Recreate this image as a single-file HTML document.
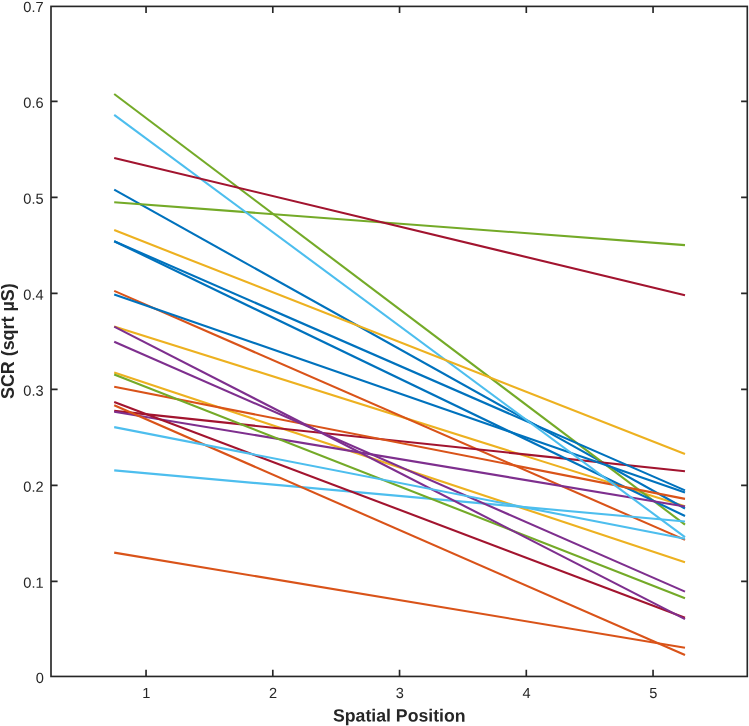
<!DOCTYPE html>
<html><head><meta charset="utf-8"><title>SCR vs Spatial Position</title>
<style>
html,body{margin:0;padding:0;background:#fff;}
svg{display:block;}
text{font-family:"Liberation Sans",Arial,Helvetica,sans-serif;fill:#262626;}
.t{font-size:14.6px;}
.l{font-size:17.7px;font-weight:bold;fill:#262626;}
</style></head><body>
<svg width="749" height="726" viewBox="0 0 749 726">
<rect width="749" height="726" fill="#fff"/>
<g fill="none" stroke-width="2.1" stroke-linecap="butt">
<line x1="114.2" y1="372.6" x2="685.0" y2="562.3" stroke="#EDB120"/>
<line x1="114.2" y1="326.4" x2="685.0" y2="506.3" stroke="#EDB120"/>
<line x1="114.2" y1="290.9" x2="685.0" y2="539.9" stroke="#D95319"/>
<line x1="114.2" y1="189.7" x2="685.0" y2="508.5" stroke="#0072BD"/>
<line x1="114.2" y1="94.0" x2="685.0" y2="524.6" stroke="#74AA28"/>
<line x1="114.2" y1="470.4" x2="685.0" y2="521.5" stroke="#4DBEEE"/>
<line x1="114.2" y1="410.9" x2="685.0" y2="471.3" stroke="#A2142F"/>
<line x1="114.2" y1="294.4" x2="685.0" y2="492.6" stroke="#0072BD"/>
<line x1="114.2" y1="241.2" x2="685.0" y2="516.0" stroke="#0072BD"/>
<line x1="114.2" y1="241.2" x2="685.0" y2="490.4" stroke="#0072BD"/>
<line x1="114.2" y1="386.8" x2="685.0" y2="498.9" stroke="#D95319"/>
<line x1="114.2" y1="411.7" x2="685.0" y2="506.5" stroke="#7E2F8E"/>
<line x1="114.2" y1="374.6" x2="685.0" y2="598.2" stroke="#74AA28"/>
<line x1="114.2" y1="202.2" x2="685.0" y2="245.1" stroke="#74AA28"/>
<line x1="114.2" y1="341.7" x2="685.0" y2="591.6" stroke="#7E2F8E"/>
<line x1="114.2" y1="405.2" x2="685.0" y2="655.0" stroke="#D95319"/>
<line x1="114.2" y1="401.9" x2="685.0" y2="617.7" stroke="#A2142F"/>
<line x1="114.2" y1="326.6" x2="685.0" y2="619.1" stroke="#7E2F8E"/>
<line x1="114.2" y1="427.1" x2="685.0" y2="538.8" stroke="#4DBEEE"/>
<line x1="114.2" y1="552.6" x2="685.0" y2="647.7" stroke="#D95319"/>
<line x1="114.2" y1="114.8" x2="685.0" y2="537.2" stroke="#4DBEEE"/>
<line x1="114.2" y1="157.9" x2="685.0" y2="295.2" stroke="#A2142F"/>
<line x1="114.2" y1="230.1" x2="685.0" y2="454.1" stroke="#EDB120"/>
</g>
<g stroke="#262626" stroke-width="1.65" fill="none">
<rect x="51.0" y="6.4" width="696.3" height="670.05"/>
<path d="M146.05 676.45 v-6.6 M146.05 6.4 v6.6"/>
<path d="M272.80 676.45 v-6.6 M272.80 6.4 v6.6"/>
<path d="M399.55 676.45 v-6.6 M399.55 6.4 v6.6"/>
<path d="M526.30 676.45 v-6.6 M526.30 6.4 v6.6"/>
<path d="M653.05 676.45 v-6.6 M653.05 6.4 v6.6"/>
<path d="M51.0 581.40 h6.6 M747.3 581.40 h-6.2"/>
<path d="M51.0 485.40 h6.6 M747.3 485.40 h-6.2"/>
<path d="M51.0 389.40 h6.6 M747.3 389.40 h-6.2"/>
<path d="M51.0 293.40 h6.6 M747.3 293.40 h-6.2"/>
<path d="M51.0 197.40 h6.6 M747.3 197.40 h-6.2"/>
<path d="M51.0 101.40 h6.6 M747.3 101.40 h-6.2"/>
</g>
<text class="t" transform="translate(146.35 697.9) rotate(0.03)" text-anchor="middle">1</text>
<text class="t" transform="translate(273.10 697.9) rotate(0.03)" text-anchor="middle">2</text>
<text class="t" transform="translate(399.85 697.9) rotate(0.03)" text-anchor="middle">3</text>
<text class="t" transform="translate(526.60 697.9) rotate(0.03)" text-anchor="middle">4</text>
<text class="t" transform="translate(653.35 697.9) rotate(0.03)" text-anchor="middle">5</text>
<text class="t" transform="translate(43.8 683.05) rotate(0.03)" text-anchor="end">0</text>
<text class="t" transform="translate(43.6 587.75) rotate(0.03)" text-anchor="end">0.1</text>
<text class="t" transform="translate(43.6 491.75) rotate(0.03)" text-anchor="end">0.2</text>
<text class="t" transform="translate(43.6 395.75) rotate(0.03)" text-anchor="end">0.3</text>
<text class="t" transform="translate(43.6 299.75) rotate(0.03)" text-anchor="end">0.4</text>
<text class="t" transform="translate(43.6 203.75) rotate(0.03)" text-anchor="end">0.5</text>
<text class="t" transform="translate(43.6 107.75) rotate(0.03)" text-anchor="end">0.6</text>
<text class="t" transform="translate(43.6 12.05) rotate(0.03)" text-anchor="end">0.7</text>
<text class="l" transform="translate(399.3 721.6) rotate(0.03)" text-anchor="middle">Spatial Position</text>
<text class="l" style="font-size:17.9px" transform="translate(14.2 341.2) rotate(-90)" text-anchor="middle">SCR (sqrt µS)</text>
</svg></body></html>
